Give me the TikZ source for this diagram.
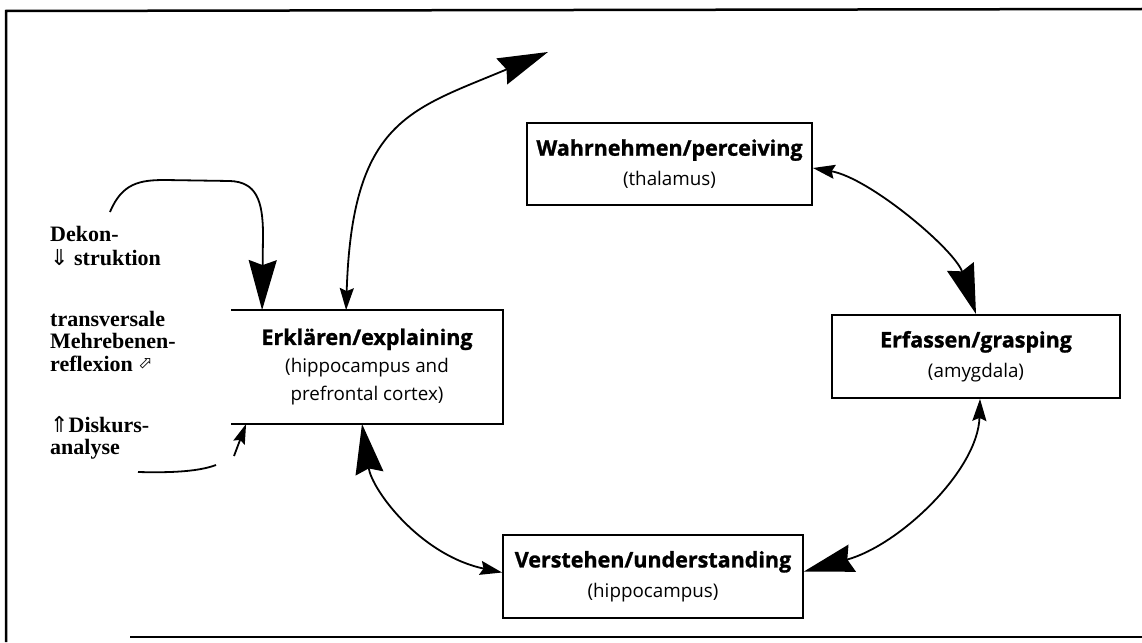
\documentclass[tikz,border=0pt]{standalone}
\usepackage{fontspec}
\setmainfont{Liberation Serif}
\newfontfamily\boxfont{Open Sans}[BoldFeatures={FakeBold=1.2}]
\newfontfamily\symfont{DejaVu Sans}
\usetikzlibrary{arrows.meta}
\newcommand{\bx}[1]{{\fontsize{21.5}{30}\selectfont\bfseries #1}}
\newcommand{\sarr}[1]{{\symfont\mdseries #1}}

\begin{document}
\begin{tikzpicture}[x=1pt,y=-1pt]
	\tikzset{brainbox/.style = {shape=rectangle, draw, line width=1.8pt,
			inner sep=0pt, align=center,
			font=\boxfont\fontsize{18.8}{30}\selectfont}}
	\tikzset{sidenote/.style = {anchor=north west, inner sep=0pt,
			align=left, font=\bfseries\fontsize{22}{24}\selectfont}}
	\tikzset{edge/.style = {line width=1.8pt}}
	\tikzset{bigarr/.tip = {Stealth[length=50pt, width=28pt, inset=5pt]}}
	\tikzset{smallarr/.tip = {Stealth[length=22pt, width=14pt, inset=3pt]}}
	\tikzset{footarr/.tip = {Stealth[length=20pt, width=12pt, inset=3pt]}}
	
	\useasboundingbox (0,0) rectangle (1142,642);
	
	% frame
	\draw[line width=2.5pt] (6,642) -- (6,11) -- (1142,9);
	\draw[line width=2.5pt] (130,637) -- (1142,637);
	
	% boxes
	\node[brainbox, minimum width=285pt, minimum height=82pt] (wahr) at (669.5,164)
		{\bx{Wahrnehmen/perceiving}\\(thalamus)};
	\node[brainbox, minimum width=288pt, minimum height=83pt] (erf) at (976,356.5)
		{\bx{Erfassen/grasping}\\(amygdala)};
	\node[brainbox, minimum width=300pt, minimum height=83pt] (verst) at (653,576.5)
		{\bx{Verstehen/understanding}\\(hippocampus)};
	\node[brainbox, draw=none, minimum width=270pt, minimum height=112pt,
		font=\boxfont\fontsize{18.8}{28}\selectfont] (erk) at (367,367)
		{\bx{Erklären/explaining}\\(hippocampus and\\prefrontal cortex)};
	\draw[line width=1.8pt] (erk.north west) -- (erk.north east)
		-- (erk.south east) -- (erk.south west);
	
	% side notes
	\node[sidenote] (dekon) at (50,226) {Dekon-\\\sarr{⇓} struktion};
	\node[sidenote] (trans) at (50,311)
		{transversale\\[-1.5pt]Mehrebenen-\\[-1.5pt]reflexion
		{\symfont\mdseries\fontsize{17}{17}\selectfont\raisebox{3pt}{⬀}}};
	\node[sidenote] (diskurs) at (50,416) {\sarr{⇑}Diskurs-\\[-2pt]analyse};
	
	% loop
	\coordinate (loopstart) at (110,212);
	\coordinate (loopend) at (138,472);
	\coordinate (loopback) at (216,465);
	\coordinate (loopfoot) at (234,456);
	\coordinate (outtop) at (548,52);
	
	\draw[edge, -bigarr] (loopstart) .. controls (122,183) and (140,180) .. (165,180)
		-- (230,181) .. controls (256,182) and (263,200) .. (263,235)
		-- ([xshift=31pt]erk.north west);
	\draw[edge] (loopend) .. controls (175,473) and (200,471) .. (loopback);
	\draw[edge, -footarr] (loopfoot) -- ([xshift=15pt]erk.south west);
	
	% cycle
	\draw[edge, smallarr-bigarr] ([xshift=115pt]erk.north west)
		.. controls (352,120) and (410,110) .. (outtop);
	\draw[edge, smallarr-bigarr] ([yshift=-4pt]wahr.east)
		.. controls (870,178) and (955,250) .. (erf.north);
	\draw[edge, smallarr-bigarr] ([xshift=4pt]erf.south)
		.. controls (978,470) and (900,545) .. ([yshift=5pt]verst.east);
	\draw[edge, bigarr-smallarr] ([xshift=-5pt]erk.south)
		.. controls (372,490) and (420,555) .. ([yshift=4pt]verst.west);
\end{tikzpicture}
\end{document}
